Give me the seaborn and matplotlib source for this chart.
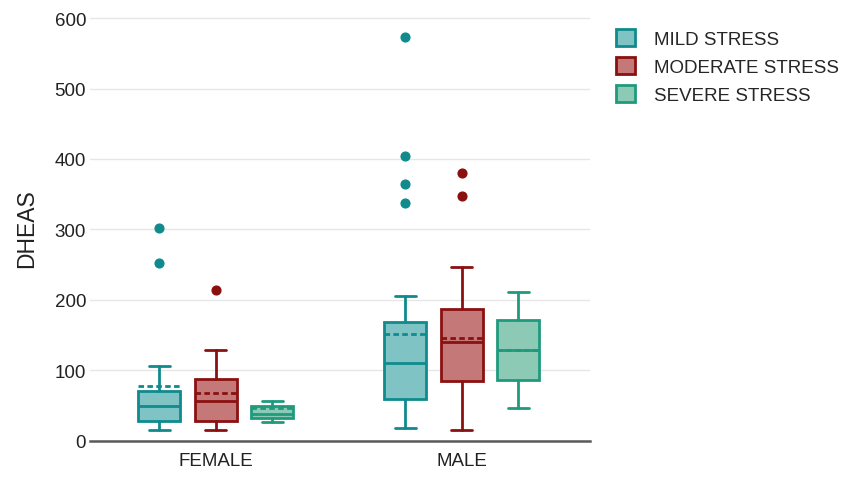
import matplotlib
matplotlib.use("Agg")
import matplotlib.pyplot as plt
from matplotlib.patches import Patch
import seaborn as sns

sexes = ["FEMALE", "MALE"]
groups = ["MILD STRESS", "MODERATE STRESS", "SEVERE STRESS"]

# summary values, order: FEMALE mild, moderate, severe, MALE mild, moderate, severe
whislo = [16, 16, 27, 18, 16, 46]
q1 = [28, 28, 33, 60, 85, 87]
med = [50, 56, 38, 110, 140, 129]
q3 = [71, 88, 50, 168, 187, 171]
whishi = [106, 129, 56, 205, 247, 211]
means = [78, 68, 46, 152, 146, 129]
fliers = [[252, 302], [214], [], [338, 364, 404, 573], [347, 380], []]

edge_colors = ["#0f8b8d", "#8b1010", "#1f9a7c"]
fill_colors = ["#7fc3c4", "#c47878", "#8ccab5"]

sns.set_theme(style="whitegrid")
plt.rcParams["font.family"] = ["Liberation Sans", "DejaVu Sans"]

fig = plt.figure(figsize=(8.51, 4.85), dpi=100)
ax = fig.add_axes([0.106, 0.089, 0.587, 0.879])

offset = 0.23
width = 0.17
for i in range(len(sexes)):
    for j in range(len(groups)):
        k = i * len(groups) + j
        st = dict(whislo=whislo[k], q1=q1[k], med=med[k], q3=q3[k],
                  whishi=whishi[k], mean=means[k], fliers=fliers[k])
        c = edge_colors[j]
        ax.bxp([st], positions=[i + (j - 1) * offset], widths=width,
               patch_artist=True, showmeans=True, meanline=True,
               boxprops=dict(facecolor=fill_colors[j], edgecolor=c, linewidth=2),
               medianprops=dict(color=c, linewidth=2),
               meanprops=dict(color=c, linewidth=2, linestyle=(0, (2, 1.2))),
               whiskerprops=dict(color=c, linewidth=2),
               capprops=dict(color=c, linewidth=2),
               flierprops=dict(marker="o", markerfacecolor=c, markeredgecolor=c,
                               markersize=6.3))

ax.set_xlim(-0.51, 1.52)
ax.set_ylim(0, 605)
ax.set_yticks([0, 100, 200, 300, 400, 500, 600])
ax.set_xticks([0, 1])
ax.set_xticklabels(sexes)
ax.grid(axis="x", visible=False)
ax.grid(axis="y", color="#e6e6e6", linewidth=1)
sns.despine(ax=ax, left=True)
ax.spines["bottom"].set_color("#5a5a5a")
ax.spines["bottom"].set_linewidth(1.8)
ax.tick_params(axis="both", labelsize=13.5, colors="#222222", length=0)
ax.tick_params(axis="y", pad=3)
ax.tick_params(axis="x", pad=8)
ax.set_ylabel("DHEAS", fontsize=16.5, color="#222222", labelpad=12)

handles = [Patch(facecolor=fill_colors[j], edgecolor=edge_colors[j], linewidth=2,
                 label=groups[j]) for j in range(len(groups))]
fig.legend(handles=handles, loc="upper left", bbox_to_anchor=(0.724, 0.938),
           frameon=False, fontsize=13.5, handlelength=1.0, handleheight=1.0,
           handletextpad=1.0, labelspacing=0.5, borderpad=0, borderaxespad=0)

fig.savefig("out.png", dpi=100)
